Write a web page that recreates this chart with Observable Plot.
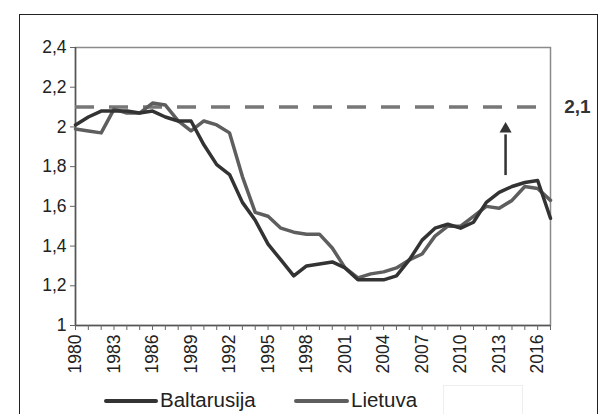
<!DOCTYPE html>
<html>
<head>
<meta charset="utf-8">
<script src="https://cdn.jsdelivr.net/npm/d3@7"></script>
<script src="https://cdn.jsdelivr.net/npm/@observablehq/plot@0.6"></script>
<style>
  html, body { margin: 0; padding: 0; background: #fff; }
  body { width: 609px; height: 414px; overflow: hidden; position: relative; font-family: "Liberation Sans", Arial, sans-serif; }
  #frame { position: absolute; left: 19px; top: 14px; width: 579px; height: 420px; border: 1.5px solid #222; box-sizing: border-box; }
  #chart { position: absolute; left: 0; top: 0; }
  .leg { position: absolute; top: 388px; font-size: 20.5px; color: #222; line-height: 24px; }
  .sw { position: absolute; height: 4px; top: 399px; border-radius: 2px; }
  #box { position: absolute; left: 443px; top: 385px; width: 78px; height: 40px; border: 1px solid #eee; }
</style>
</head>
<body>
<div id="frame"></div>
<div id="chart"></div>
<div class="sw" style="left:104px;width:54px;background:#333;"></div>
<div class="leg" style="left:160px;">Baltarusija</div>
<div class="sw" style="left:294px;width:55px;background:#5e5e5e;"></div>
<div class="leg" style="left:351px;">Lietuva</div>
<div id="box"></div>
<script>
const years = [1980,1981,1982,1983,1984,1985,1986,1987,1988,1989,1990,1991,1992,1993,1994,1995,1996,1997,1998,1999,2000,2001,2002,2003,2004,2005,2006,2007,2008,2009,2010,2011,2012,2013,2014,2015,2016,2017];
const baltarusija = [2.01,2.05,2.08,2.08,2.08,2.07,2.08,2.05,2.03,2.03,1.91,1.81,1.76,1.62,1.53,1.41,1.33,1.25,1.30,1.31,1.32,1.29,1.23,1.23,1.23,1.25,1.33,1.43,1.49,1.51,1.49,1.52,1.62,1.67,1.70,1.72,1.73,1.54];
const lietuva = [1.99,1.98,1.97,2.09,2.07,2.07,2.12,2.11,2.03,1.98,2.03,2.01,1.97,1.75,1.57,1.55,1.49,1.47,1.46,1.46,1.39,1.29,1.24,1.26,1.27,1.29,1.33,1.36,1.45,1.50,1.50,1.55,1.60,1.59,1.63,1.70,1.69,1.63];
const yTicks = [1,1.2,1.4,1.6,1.8,2,2.2,2.4];
const target = 2.1;
const targetLabel = "2,1";
const arrowYear = 2013.5, arrowFrom = 1.755, arrowTo = 1.99;

const rows = (vals, s) => years.map((y, i) => ({year: y, value: vals[i], series: s}));
const dataB = rows(baltarusija, "Baltarusija");
const dataL = rows(lietuva, "Lietuva");
const fmt = d => String(+d.toFixed(1)).replace(".", ",");

const chart = Plot.plot({
  width: 609,
  height: 380,
  marginLeft: 75,
  marginRight: 59,
  marginTop: 47,
  marginBottom: 55,
  style: {fontFamily: "'Liberation Sans', Arial, sans-serif", fontSize: "17.5px", background: "transparent", color: "#222"},
  x: {domain: [1980, 2017]},
  y: {domain: [1, 2.4]},
  marks: [
    Plot.frame({stroke: "#8a8a8a", strokeWidth: 1.5}),
    Plot.ruleX([1980], {stroke: "#555", strokeWidth: 1.5}),
    Plot.ruleY([1], {stroke: "#555", strokeWidth: 1.5}),
    Plot.axisY({ticks: yTicks, tickFormat: fmt, tickSize: 5, tickPadding: 4, stroke: "#666", label: null}),
    Plot.axisX({ticks: years, tickSize: 5, tickPadding: 4, tickRotate: -90, stroke: "#666", label: null,
      tickFormat: d => ((d - 1980) % 3 === 0 && d <= 2016) ? String(d) : ""}),
    Plot.ruleY([target], {stroke: "#777", strokeWidth: 3.5, strokeDasharray: "19,15"}),
    Plot.line(dataL, {x: "year", y: "value", stroke: "#5e5e5e", strokeWidth: 3.5}),
    Plot.line(dataB, {x: "year", y: "value", stroke: "#333", strokeWidth: 3.5}),
    Plot.ruleX([arrowYear], {y1: arrowFrom, y2: arrowTo - 0.03, stroke: "#333", strokeWidth: 2.5}),
    Plot.dot([{x: arrowYear, y: arrowTo}], {x: "x", y: "y", symbol: "triangle", r: 4.5, fill: "#333", stroke: "none"}),
    Plot.text([{x: 2019.1, y: target, t: targetLabel}], {x: "x", y: "y", text: "t", fontSize: 19, fontWeight: "bold", fill: "#333", clip: false})
  ]
});
document.getElementById("chart").appendChild(chart);
</script>
</body>
</html>
